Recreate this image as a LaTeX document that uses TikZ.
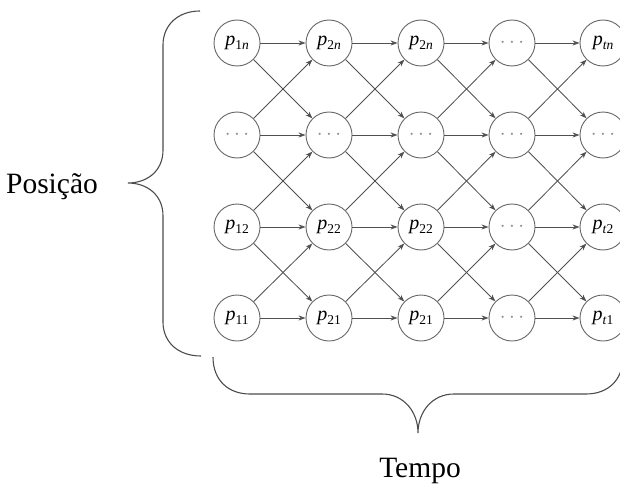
\documentclass[tikz,border=0pt]{standalone}
\usepackage{fontspec}
\setmainfont{Liberation Serif}
\usetikzlibrary{arrows.meta}
\newcommand\pp[1]{\textit{p}\raisebox{-0.4ex}{\fontsize{13.5}{13.5}\selectfont #1}}
\newcommand\dd{{\color{black!45}$\cdots$}}
\definecolor{lin}{HTML}{505050}
\tikzset{
  st/.style={circle,draw=black!60,line width=0.9pt,minimum size=46pt,inner sep=0pt,font=\fontsize{20}{20}\selectfont},
  arr/.style={draw=lin,line width=0.85pt,-{Stealth[length=7pt,width=5pt]}},
  brc/.style={draw=black!70,line width=1.1pt},
  lbl/.style={font=\fontsize{29.5}{29.5}\selectfont,anchor=base,inner sep=0pt}
}
\begin{document}
\begin{tikzpicture}[x=1pt,y=-1pt]
\useasboundingbox (0,0) rectangle (620,484);
\clip (0,0) rectangle (620,484);
% column 1
\node[st] (n11) at (237,43) {\pp{1\textit{n}}};
\node[st] (n12) at (237,135) {\dd};
\node[st] (n13) at (237,227) {\pp{12}};
\node[st] (n14) at (237,318) {\pp{11}};
% column 2
\node[st] (n21) at (329,43) {\pp{2\textit{n}}};
\node[st] (n22) at (329,135) {\dd};
\node[st] (n23) at (329,227) {\pp{22}};
\node[st] (n24) at (329,318) {\pp{21}};
% column 3
\node[st] (n31) at (421,43) {\pp{2\textit{n}}};
\node[st] (n32) at (421,135) {\dd};
\node[st] (n33) at (421,227) {\pp{22}};
\node[st] (n34) at (421,318) {\pp{21}};
% column 4
\node[st] (n41) at (512,43) {\dd};
\node[st] (n42) at (512,135) {\dd};
\node[st] (n43) at (512,227) {\dd};
\node[st] (n44) at (512,318) {\dd};
% column 5
\node[st] (n51) at (603,43) {\pp{\textit{tn}}};
\node[st] (n52) at (603,135) {\dd};
\node[st] (n53) at (603,227) {\pp{\textit{t}2}};
\node[st] (n54) at (603,318) {\pp{\textit{t}1}};
% connectors
\foreach \c/\d in {1/2,2/3,3/4,4/5}{
  \foreach \r in {1,2,3,4}{ \draw[arr] (n\c\r) -- (n\d\r); }
  \foreach \r/\s in {1/2,2/3,3/4}{
    \draw[arr] (n\c\r) -- (n\d\s);
    \draw[arr] (n\c\s) -- (n\d\r);
  }
}
% braces
\draw[brc] (200,11) .. controls (178,11) and (163,25) .. (163,45) -- (163,150)
  .. controls (163,172) and (146,183) .. (128,183)
  .. controls (146,183) and (163,194) .. (163,216) -- (163,322)
  .. controls (163,342) and (178,356) .. (201,356);
\draw[brc] (213,357) .. controls (213,380) and (228,394) .. (250,394) -- (382,394)
  .. controls (404,394) and (418,412) .. (418,433)
  .. controls (418,412) and (432,394) .. (454,394) -- (586,394)
  .. controls (608,394) and (623,380) .. (623,357);
\node[lbl] (pos) at (52,193) {Posição};
\node[lbl] (tem) at (420,477) {Tempo};
\end{tikzpicture}
\end{document}
